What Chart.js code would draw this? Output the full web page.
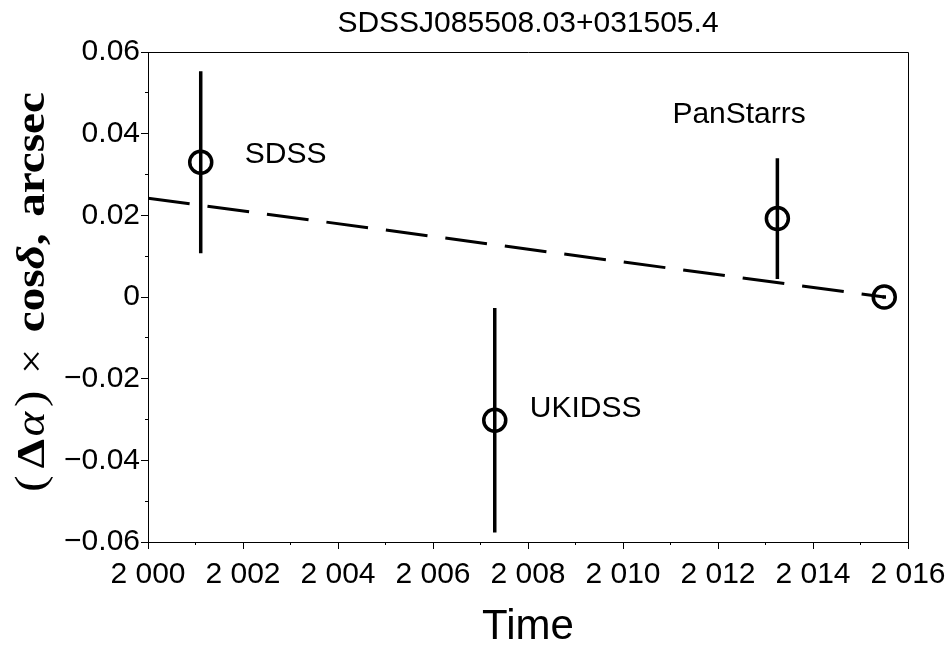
<!DOCTYPE html>
<html><head><meta charset="utf-8">
<script src="https://cdn.jsdelivr.net/npm/chart.js@4/dist/chart.umd.min.js"></script>
<style>html,body{margin:0;padding:0;background:#fff;} canvas{display:block}</style>
</head><body>
<canvas id="c" width="950" height="650"></canvas>
<script>
// ---- data ----
const chartTitle = 'SDSSJ085508.03+031505.4';
const surveys = ['SDSS', 'UKIDSS', 'PanStarrs', 'Gaia'];
const epochs = [2001.11, 2007.30, 2013.25, 2015.50];
const offsets = [0.0330, -0.0302, 0.0192, 0.0000];
const errors = [0.0223, 0.0275, 0.0148, 0.0004];
const fitEpochs = [2000.0, 2015.5];
const fitOffsets = [0.0242, 0.0000];
const xTickLabels = ['2 000', '2 002', '2 004', '2 006', '2 008', '2 010', '2 012', '2 014', '2 016'];
const yTickLabels = ['\u22120.06', '\u22120.04', '\u22120.02', '0', '0.02', '0.04', '0.06'];
const labelledSurveys = ['SDSS', 'UKIDSS', 'PanStarrs'];
const xAxisTitle = 'Time';
const yAxisTitleParts = ['(', '\u0394', '\u03B1', ')', '\u00D7', 'cos', '\u03B4', ',', 'arcsec'];

// ---- build datasets ----
const pointData = epochs.map((t, i) => ({x: t, y: offsets[i]}));
const errData = [];
epochs.forEach((t, i) => {
  errData.push({x: t, y: offsets[i] - errors[i]});
  errData.push({x: t, y: offsets[i] + errors[i]});
  errData.push({x: t, y: null});
});
const fitData = fitEpochs.map((t, i) => ({x: t, y: fitOffsets[i]}));

const SANS = '"Liberation Sans", Arial, sans-serif';
const SERIF = '"Liberation Serif", "Times New Roman", serif';

const decor = {
  id: 'decor',
  afterDraw(chart) {
    const ctx = chart.ctx, a = chart.chartArea;
    const xs = chart.scales.x, ys = chart.scales.y;
    ctx.save();
    // frame top & right
    ctx.strokeStyle = '#000'; ctx.lineWidth = 1;
    ctx.beginPath();
    ctx.moveTo(Math.round(a.left), Math.round(a.top) + 0.5);
    ctx.lineTo(Math.round(a.right) + 0.5, Math.round(a.top) + 0.5);
    ctx.lineTo(Math.round(a.right) + 0.5, Math.round(a.bottom));
    ctx.stroke();
    // title
    ctx.fillStyle = '#000';
    ctx.font = '30px ' + SANS;
    ctx.textAlign = 'center'; ctx.textBaseline = 'alphabetic';
    ctx.fillText(chartTitle, (a.left + a.right) / 2, 32);
    // survey labels
    const off = {SDSS: [44, 1], UKIDSS: [35, -3], PanStarrs: [-105, -96]};
    ctx.textAlign = 'left';
    ctx.font = '30px ' + SANS;
    labelledSurveys.forEach(name => {
      const i = surveys.indexOf(name);
      const px = xs.getPixelForValue(epochs[i]);
      const py = ys.getPixelForValue(offsets[i]);
      ctx.fillText(name, px + off[name][0], py + off[name][1]);
    });
    // y axis title (mixed styles)
    const fonts = ['42px ' + SERIF, 'bold 40px ' + SERIF, 'italic 40px ' + SERIF, '42px ' + SERIF,
                   '38px ' + SERIF, 'bold 40px ' + SERIF, 'italic bold 40px ' + SERIF, 'bold 40px ' + SERIF, 'bold 40px ' + SERIF];
    const gaps = [6, 2, 4, 14, 14, 0, 0, 14, 0];
    let W = 0;
    const widths = yAxisTitleParts.map((t, i) => { ctx.font = fonts[i]; const w = ctx.measureText(t).width; W += w + gaps[i]; return w; });
    W -= gaps[gaps.length - 1];
    const target = 400;
    ctx.translate(44, 292);
    ctx.rotate(-Math.PI / 2);
    ctx.scale(target / W, 1);
    let x = -W / 2;
    yAxisTitleParts.forEach((t, i) => {
      ctx.font = fonts[i];
      ctx.fillText(t, x, 0);
      x += widths[i] + gaps[i];
    });
    ctx.restore();
  }
};

const fixH = h => s => { s.height = h; s.paddingLeft = 0; s.paddingRight = 0; };
const fixW = w => s => { s.width = w; s.paddingTop = 0; s.paddingBottom = 0; };

new Chart(document.getElementById('c'), {
  type: 'scatter',
  data: {
    datasets: [
      {label: 'points', data: pointData, order: 0, pointStyle: 'circle', pointRadius: 11, pointHoverRadius: 11,
       borderColor: '#000', backgroundColor: 'rgba(0,0,0,0)', pointBorderWidth: 3.5, borderWidth: 3.5},
      {label: 'errors', data: errData, order: 1, showLine: true, spanGaps: false, pointRadius: 0,
       borderColor: '#000', borderWidth: 3.5},
      {label: 'fit', data: fitData, order: 2, showLine: true, pointRadius: 0, borderColor: '#000',
       borderWidth: 3, borderDash: [42, 18]}
    ]
  },
  options: {
    responsive: false, animation: false,
    layout: {padding: {top: 52, right: 42, left: 0, bottom: 0}},
    plugins: {legend: {display: false}, tooltip: {enabled: false}, title: {display: false}},
    scales: {
      x: {type: 'linear', position: 'bottom', weight: 1, min: 2000, max: 2016,
          ticks: {stepSize: 2, autoSkip: false, maxRotation: 0, color: '#000', padding: 8,
                  font: {family: SANS, size: 30}, callback: (v, i) => xTickLabels[i]},
          grid: {drawOnChartArea: false, tickLength: 7, color: '#000'},
          border: {display: true, color: '#000', width: 1},
          title: {display: true, text: xAxisTitle, color: '#000', font: {family: SANS, size: 42}, padding: {top: 0, bottom: -3}},
          afterFit: fixH(108)},
      xMinor: {type: 'linear', position: 'bottom', weight: 0, min: 2000, max: 2016, display: true,
          ticks: {stepSize: 1, display: false},
          grid: {drawOnChartArea: false, tickLength: 3, color: '#000'},
          border: {display: false},
          afterFit: fixH(0)},
      y: {type: 'linear', position: 'left', weight: 1, min: -0.06, max: 0.06,
          ticks: {stepSize: 0.02, color: '#000', padding: 1,
                  font: {family: SANS, size: 30}, callback: (v, i) => yTickLabels[i]},
          grid: {drawOnChartArea: false, tickLength: 7, color: '#000'},
          border: {display: true, color: '#000', width: 1},
          afterFit: fixW(148)},
      yMinor: {type: 'linear', position: 'left', weight: 0, min: -0.06, max: 0.06, display: true,
          ticks: {stepSize: 0.01, display: false},
          grid: {drawOnChartArea: false, tickLength: 3, color: '#000'},
          border: {display: false},
          afterFit: fixW(0)}
    }
  },
  plugins: [decor]
});
</script>
</body></html>
